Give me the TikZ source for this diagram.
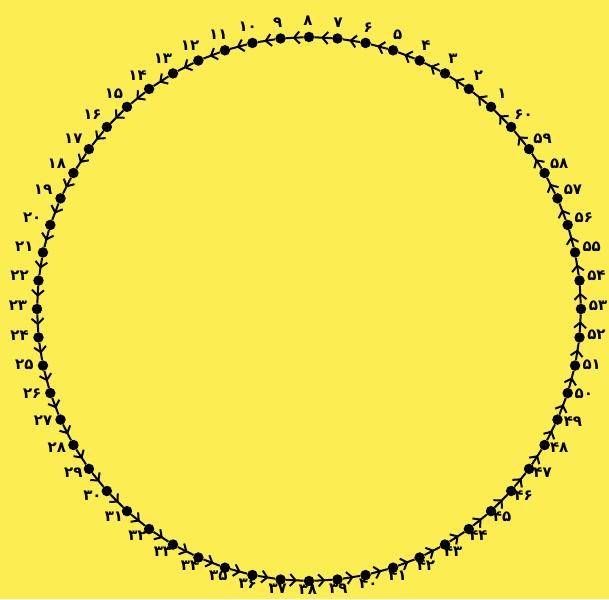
\documentclass[tikz,border=0pt]{standalone}
\usepackage{fontspec}
\newfontfamily\persfont[Script=Arabic]{DejaVu Sans}
\usetikzlibrary{arrows.meta, calc, decorations.markings}
\definecolor{bgyellow}{RGB}{252,237,82}

%% Persian digits for the counter
\newcommand\persdigit[1]{\ifcase#1 ۰\or ۱\or ۲\or ۳\or ۴\or ۵\or ۶\or ۷\or ۸\or ۹\fi}
\def\persloop#1{\ifx\relax#1\else\persdigit{#1}\expandafter\persloop\fi}
\newcommand\persnum[1]{\edef\persarg{#1}\expandafter\persloop\persarg\relax}

\tikzset{
  %% ---- nodes ----
  dotnode/.style  = {circle, fill=black, inner sep=0pt, minimum size=10.5pt},
  numlabel/.style = {inner sep=0pt, text=black,
                     font=\persfont\fontsize{15}{16}\selectfont\bfseries},
  %% ---- arrows ----
  arrow/.style    = {line width=2pt, postaction={decorate},
                     decoration={markings, mark=at position 0.62 with
                       {\arrow{Straight Barb[length=5.5pt, width=12pt]}}}},
}

\begin{document}
\begin{tikzpicture}[x=1pt, y=1pt]

  \fill[bgyellow] (-309,-290) rectangle (300,309);
  \useasboundingbox (-309,-290) rectangle (300,309);
  \coordinate (lc) at (-1,3.5);

  %% dots on the circle
  \foreach \k in {1,...,60}
    \node[dotnode] (d\k) at ({42+6*\k}:272) {};

  %% numbers
  \foreach \k in {1,...,60}
    \node[numlabel] (n\k) at ($(lc)+({42+6*\k}:290 and 284.5)$) {\persnum{\k}};

  %% arrows from each dot to the next one
  \foreach \k [evaluate=\k as \j using {int(mod(\k,60)+1)}] in {1,...,60}
    \draw[arrow] (d\k) -- (d\j);

\end{tikzpicture}
\end{document}
